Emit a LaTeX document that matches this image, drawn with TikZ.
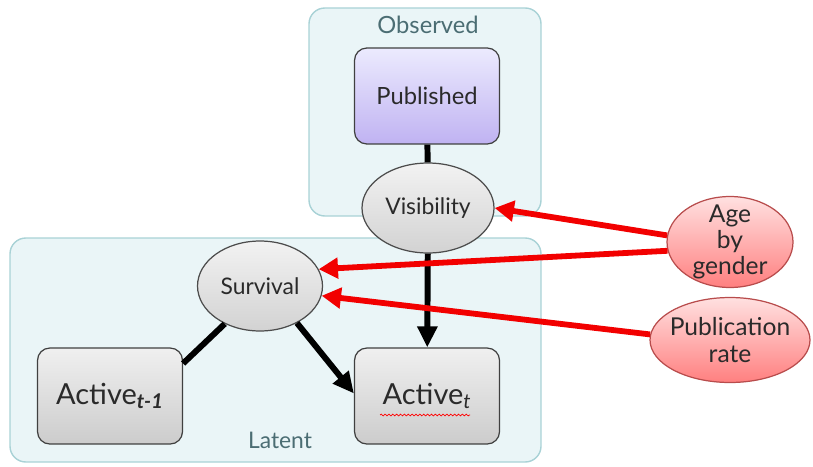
\documentclass[tikz,border=0pt]{standalone}
\usepackage{fontspec}
\setmainfont{Lato}
\usetikzlibrary{ arrows.meta, % For the fat arrow tips
                 shapes,      % For ellipse and so
                 decorations.pathmorphing, % For the spell-check squiggle
               }
\definecolor{panelfill}{HTML}{EAF5F7}
\definecolor{paneledge}{HTML}{A9D2D6}
\definecolor{paneltext}{HTML}{4B6D73}
\definecolor{inktext}{HTML}{2A2A2A}
\definecolor{arrowred}{HTML}{F20000}

\tikzset{
  panel/.style={draw=paneledge, fill=panelfill, line width=0.8pt, rounded corners=9pt},
  paneltitle/.style={text=paneltext, font=\fontsize{13.5}{15}\selectfont},
  varbox/.style={draw=black!75, line width=0.7pt, rounded corners=7pt,
                 minimum width=2.9cm, minimum height=1.92cm, text=inktext,
                 top color=gray!12, bottom color=gray!40},
  obsbox/.style={varbox, top color=violet!10!blue!8, bottom color=violet!35!blue!30!white},
  varell/.style={ellipse, draw=black!70, line width=0.7pt, inner sep=-2pt, text=inktext,
                 top color=gray!10, bottom color=gray!35,
                 font=\fontsize{13}{15}\selectfont},
  covell/.style={ellipse, draw=red!60!black!70, line width=0.7pt, inner sep=-3pt,
                 text=inktext, align=center, top color=red!12, bottom color=red!50,
                 font=\fontsize{14}{15}\selectfont},
  link/.style={line width=3.4pt},
  causes/.style={link, -{Triangle[length=12pt, width=11pt]}},
  effect/.style={arrowred, line width=3.3pt, -{Triangle[length=11pt, width=11.5pt]}},
}

\begin{document}
\begin{tikzpicture}[x=0.02cm, y=-0.02cm] % pixel grid, y runs down
  \useasboundingbox (0,0) rectangle (813,466);

  % the two plates
  \draw[panel] (309,8) rectangle (541,216);
  \draw[panel] (10,238) rectangle (541,462);
  \node[paneltitle] (observed) at (428,25) {Observed};
  \node[paneltitle, font=\fontsize{13}{15}\selectfont] (latent) at (280,440) {Latent};

  \node[obsbox, font=\fontsize{13.5}{15}\selectfont] (published) at (427,96) {Published};
  \node[varell, minimum width=2.64cm, minimum height=1.8cm] (visibility) at (428,208) {Visibility};
  \node[varell, minimum width=2.5cm, minimum height=1.8cm] (survival) at (260,286) {Survival};

  \node[varbox, font=\fontsize{16.5}{18}\selectfont] (active_prev) at (110,396)
        {Active\textsubscript{\itshape\bfseries t-1}};
  \node[varbox, font=\fontsize{16.5}{18}\selectfont] (active_now) at (427,396)
        {Active\textsubscript{\itshape t}};

  \node[covell, minimum width=2.52cm, minimum height=1.82cm] (age) at (730,242) {Age\\by\\gender};
  \node[covell, minimum width=3.2cm, minimum height=1.7cm] (pubrate) at (730,340) {Publication\\rate};

  \draw[link] (published) -- (visibility);
  \draw[causes] (visibility) -- (active_now);
  \draw[link] (survival.-133) -- (active_prev.24);
  \draw[causes] (survival.-45) -- (active_now.178);

  \draw[effect] (age.174) -- (visibility.east);
  \draw[effect] (age.188) -- (survival.16);
  \draw[effect] (pubrate.176) -- (survival.-9);

  \draw[red, line width=0.4pt, decorate, decoration={snake, amplitude=0.5pt, segment length=2.2pt}]
    (380,415) -- (470,415);
\end{tikzpicture}
\end{document}
